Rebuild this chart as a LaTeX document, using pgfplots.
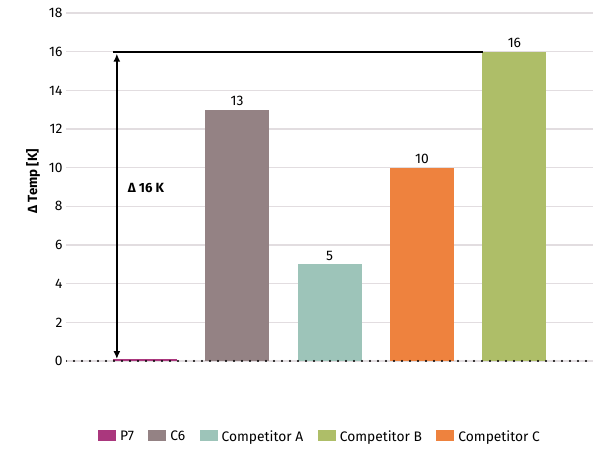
\documentclass[border=0pt]{standalone}
\usepackage{fontspec}
\setmainfont{Fira Sans}
\usepackage{pgfplots}
\pgfplotsset{compat=1.18}
\usetikzlibrary{arrows.meta}
\definecolor{cP7}{RGB}{170,55,125}
\definecolor{cC6}{RGB}{148,130,132}
\definecolor{cA}{RGB}{157,196,185}
\definecolor{cB}{RGB}{174,190,104}
\definecolor{cC}{RGB}{238,130,62}
\definecolor{gridc}{RGB}{226,221,224}
\begin{document}
\begin{tikzpicture}
\begin{axis}[
  at={(0,0)}, anchor=south west,
  scale only axis, width=527pt, height=348pt,
  ymin=0, ymax=18, ytick={0,2,...,18},
  xmin=-0.85, xmax=4.85, xtick=\empty,
  axis line style={draw=none}, major tick length=0pt,
  ymajorgrids, grid style={line width=1.5pt, color=gridc},
  ybar, bar width=64pt, bar shift=0pt,
  tick label style={font=\fontsize{13.8}{15}\selectfont},
  /pgf/number format/assume math mode=true,
  ylabel={\textbf{Δ Temp [K]}},
  ylabel style={at={(axis description cs:-0.0626,0.517)}, anchor=center, font=\fontsize{13.3}{15}\selectfont},
  legend style={at={(0.482,-0.218)}, anchor=center, draw=none, legend columns=5,
    font=\fontsize{13.8}{15}\selectfont,
    /tikz/every odd column/.append style={column sep=2pt},
    /tikz/every even column/.append style={column sep=12.5pt}},
  legend image code/.code={\fill[#1] (0pt,-4pt) rectangle (18pt,7pt);},
  every node near coord/.append style={font=\fontsize{13.8}{15}\selectfont, text=black},
]
\addplot[fill=cP7, draw=none] coordinates {(0,0.1)};
\addlegendentry{P7}
\addplot[fill=cC6, draw=none, nodes near coords] coordinates {(1,13)};
\addlegendentry{C6}
\addplot[fill=cA, draw=none, nodes near coords] coordinates {(2,5)};
\addlegendentry{Competitor A}
\addplot[fill=cB, draw=none, nodes near coords] coordinates {(4,16)};
\addlegendentry{Competitor B}
\addplot[fill=cC, draw=none, nodes near coords] coordinates {(3,10)};
\addlegendentry{Competitor C}
\draw[line cap=round, dash pattern=on 0pt off 8pt, line width=2.4pt] (axis cs:-0.85,0) -- (axis cs:4.85,0);
\draw[line width=1.9pt] (axis cs:-0.345,16) -- (axis cs:3.656,16);
\draw[line width=1.9pt, {Latex[length=8pt,width=7pt]}-{Latex[length=8pt,width=7pt]}] (axis cs:-0.30,0.1) -- (axis cs:-0.30,15.9);
\node[anchor=west, font=\fontsize{13.3}{15}\selectfont\bfseries] at (axis cs:-0.22,8.95) {Δ 16 K};
\end{axis}
\pgfresetboundingbox
\useasboundingbox (-66pt,-87pt) rectangle (527pt,361pt);
\end{tikzpicture}
\end{document}
